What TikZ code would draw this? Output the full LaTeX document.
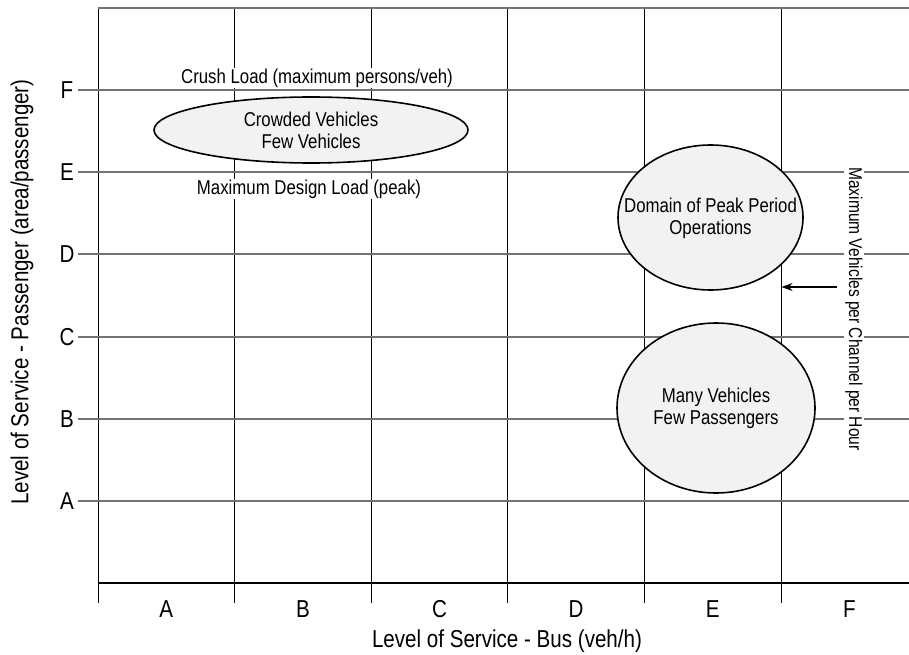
\documentclass[tikz,border=0pt]{standalone}
\usepackage{fontspec}
\setmainfont{Liberation Sans}[FakeStretch=0.84]
\usetikzlibrary{shapes.geometric,arrows.meta}
\newcommand{\lblfont}{\fontsize{20}{22}\selectfont}
\newcommand{\sidefont}{\fontsize{18.5}{22}\selectfont}
\newcommand{\axfont}{\fontsize{24.5}{28}\selectfont}
\begin{document}
\begin{tikzpicture}[x=1pt,y=-1pt,
  hline/.style={draw=black!55, line width=2pt},
  vline/.style={draw=black, line width=0.9pt},
  baseline/.style={draw=black, line width=1.1pt},
  blob/.style={ellipse, draw=black, line width=1.6pt, fill=black!5, inner sep=0pt},
  blobtext/.style={font=\lblfont, align=center, inner sep=0pt},
  lbl/.style={font=\lblfont, fill=white, inner sep=1pt},
  axl/.style={font=\axfont, inner sep=0pt},
  pointer/.style={-{Stealth[length=11pt,width=8pt]}, line width=1.4pt}
]
\useasboundingbox (0,0) rectangle (909,655);
% vertical grid lines with ticks below
\foreach \x in {98,234.6,371.2,507.8,644.4,781}{
  \draw[vline] (\x,8) -- (\x,603);
}
% top and bottom lines
\draw[hline] (98,8) -- (909,8);
\draw[baseline] (98,583) -- (909,583);
% horizontal grid lines with ticks on the left
\foreach \y/\l in {90.1/F,172.3/E,254.4/D,336.6/C,418.7/B,500.9/A}{
  \draw[hline] (78,\y) -- (909,\y);
  \node[axl] (y\l) at (67,\y) {\l};
}
% x tick labels
\foreach \x/\l in {166.3/A,302.9/B,439.5/C,576.1/D,712.7/E,849.3/F}{
  \node[axl] (x\l) at (\x,609) {\l};
}
% axis titles
\node[axl] (xtitle) at (507,641) {Level of Service - Bus (veh/h)};
\node[axl, rotate=90] (ytitle) at (22,292) {Level of Service - Passenger (area/passenger)};
% ellipses
\node[blob, minimum width=314pt, minimum height=66pt] (e1) at (311,130) {};
\node[blobtext] (e1t) at (e1.center) {Crowded Vehicles\\Few Vehicles};
\node[blob, minimum width=185pt, minimum height=145pt] (e2) at (710.5,217.5) {};
\node[blobtext] (e2t) at ([yshift=-1pt]e2.center) {Domain of Peak Period\\Operations};
\node[blob, minimum width=198pt, minimum height=170pt] (e3) at (716,408) {};
\node[blobtext] (e3t) at (e3.center) {Many Vehicles\\Few Passengers};
% labels
\node[lbl] (crush) at (317,78) {Crush Load (maximum persons/veh)};
\node[lbl] (design) at (309,189) {Maximum Design Load (peak)};
\node[lbl, font=\sidefont, rotate=-90] (maxveh) at (854,309) {Maximum Vehicles per Channel per Hour};
% arrow
\coordinate (arrS) at (837,287);
\coordinate (arrE) at (781.5,287);
\draw[pointer] (arrS) -- (arrE);
\end{tikzpicture}
\end{document}
